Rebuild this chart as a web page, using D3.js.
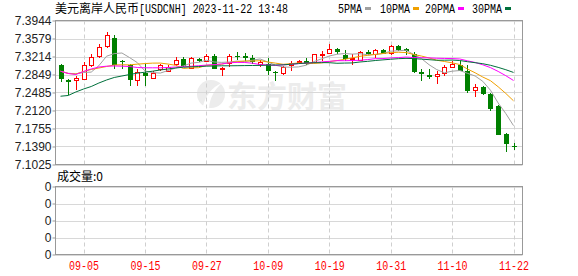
<!DOCTYPE html>
<html>
<head>
<meta charset="utf-8">
<script src="https://cdn.jsdelivr.net/npm/d3@7"></script>
<style>
  body { margin: 0; background: #fff; }
  svg { display: block; }
</style>
</head>
<body>
<div id="chart"></div>
<script>
// trading days shown (MM-DD)
const dates = [
  '08-31', '09-01', '09-04', '09-05', '09-06', '09-07', '09-08', '09-11', '09-12', '09-13',
  '09-14', '09-15', '09-18', '09-19', '09-20', '09-21', '09-22', '09-25', '09-26', '09-27',
  '09-28', '09-29', '10-02', '10-03', '10-04', '10-05', '10-06', '10-09', '10-10', '10-11',
  '10-12', '10-13', '10-16', '10-17', '10-18', '10-19', '10-20', '10-23', '10-24', '10-25',
  '10-26', '10-27', '10-30', '10-31', '11-01', '11-02', '11-03', '11-06', '11-07', '11-08',
  '11-09', '11-10', '11-13', '11-14', '11-15', '11-16', '11-17', '11-20', '11-21', '11-22'
];

const opens = [
  7.3032, 7.2748, 7.2728, 7.2768, 7.3052, 7.3220, 7.3437, 7.3593, 7.3133, 7.3052,
  7.2748, 7.2884, 7.2782, 7.2951, 7.2916, 7.3072, 7.3168, 7.2985, 7.3168, 7.3119,
  7.3220, 7.2965, 7.3086, 7.3234, 7.3220, 7.3188, 7.3066, 7.3066, 7.2904, 7.2884,
  7.3052, 7.3099, 7.3113, 7.3099, 7.3241, 7.3289, 7.3376, 7.3241, 7.3168, 7.3153,
  7.3310, 7.3269, 7.3336, 7.3289, 7.3423, 7.3376, 7.3255, 7.2910, 7.2835, 7.2815,
  7.2884, 7.2997, 7.3038, 7.2930, 7.2545, 7.2592, 7.2458, 7.2207, 7.1647, 7.1396
];
const highs = [
  7.3072, 7.2768, 7.2809, 7.3099, 7.3269, 7.3458, 7.3715, 7.3660, 7.3153, 7.3072,
  7.2951, 7.3072, 7.2916, 7.3066, 7.3038, 7.3214, 7.3200, 7.3194, 7.3180, 7.3255,
  7.3255, 7.3011, 7.3255, 7.3310, 7.3289, 7.3241, 7.3153, 7.3188, 7.2930, 7.3018,
  7.3133, 7.3153, 7.3188, 7.3269, 7.3322, 7.3472, 7.3391, 7.3336, 7.3255, 7.3322,
  7.3336, 7.3376, 7.3376, 7.3443, 7.3443, 7.3391, 7.3310, 7.2951, 7.2951, 7.2916,
  7.3038, 7.3119, 7.3133, 7.3052, 7.2647, 7.2612, 7.2478, 7.2241, 7.1668, 7.1465
];
const lows = [
  7.2701, 7.2424, 7.2545, 7.2748, 7.2997, 7.3188, 7.3391, 7.2951, 7.2951, 7.2612,
  7.2612, 7.2612, 7.2768, 7.2916, 7.2904, 7.3018, 7.2997, 7.2965, 7.3099, 7.3107,
  7.2951, 7.2815, 7.2997, 7.3153, 7.3119, 7.3066, 7.3005, 7.2849, 7.2714, 7.2849,
  7.2930, 7.3066, 7.3052, 7.3086, 7.3119, 7.3255, 7.3255, 7.3119, 7.3052, 7.3133,
  7.3241, 7.3188, 7.3255, 7.3241, 7.3322, 7.3241, 7.2884, 7.2714, 7.2768, 7.2661,
  7.2815, 7.2985, 7.2916, 7.2478, 7.2389, 7.2430, 7.2105, 7.1623, 7.1274, 7.1329
];
const closes = [
  7.2762, 7.2701, 7.2782, 7.3038, 7.3208, 7.3411, 7.3660, 7.3052, 7.3093, 7.2748,
  7.2904, 7.2815, 7.2884, 7.3038, 7.3011, 7.3153, 7.3018, 7.3180, 7.3113, 7.3234,
  7.2965, 7.2985, 7.3220, 7.3200, 7.3188, 7.3107, 7.3099, 7.2916, 7.2884, 7.2997,
  7.3086, 7.3133, 7.3086, 7.3255, 7.3269, 7.3376, 7.3310, 7.3168, 7.3188, 7.3310,
  7.3269, 7.3336, 7.3269, 7.3423, 7.3356, 7.3322, 7.2904, 7.2864, 7.2795, 7.2864,
  7.2997, 7.3066, 7.2930, 7.2511, 7.2592, 7.2458, 7.2160, 7.1633, 7.1445, 7.1376
];

const ma5 = [
  7.2916, 7.2874, 7.2864, 7.2890, 7.2898, 7.3028, 7.3220, 7.3273, 7.3285, 7.3192,
  7.3091, 7.2922, 7.2888, 7.2878, 7.2930, 7.2981, 7.3022, 7.3080, 7.3095, 7.3139,
  7.3103, 7.3095, 7.3103, 7.3121, 7.3111, 7.3139, 7.3164, 7.3103, 7.3038, 7.3001,
  7.2997, 7.3003, 7.3038, 7.3111, 7.3166, 7.3224, 7.3259, 7.3275, 7.3263, 7.3271,
  7.3249, 7.3255, 7.3275, 7.3322, 7.3330, 7.3342, 7.3255, 7.3174, 7.3048, 7.2949,
  7.2884, 7.2916, 7.2930, 7.2874, 7.2819, 7.2711, 7.2531, 7.2272, 7.2057, 7.1813
];
const ma10 = [
  7.2916, 7.2870, 7.2859, 7.2910, 7.2951, 7.2981, 7.3011, 7.3042, 7.3046, 7.3045,
  7.3059, 7.3071, 7.3080, 7.3081, 7.3061, 7.3036, 7.2972, 7.2984, 7.2986, 7.3035,
  7.3042, 7.3058, 7.3092, 7.3108, 7.3125, 7.3121, 7.3129, 7.3103, 7.3080, 7.3056,
  7.3068, 7.3084, 7.3070, 7.3074, 7.3084, 7.3111, 7.3131, 7.3157, 7.3187, 7.3218,
  7.3237, 7.3257, 7.3275, 7.3292, 7.3300, 7.3295, 7.3255, 7.3224, 7.3185, 7.3139,
  7.3113, 7.3086, 7.3052, 7.2961, 7.2884, 7.2798, 7.2724, 7.2601, 7.2465, 7.2316
];
const ma20 = [
  7.2916, 7.2870, 7.2849, 7.2910, 7.2961, 7.3001, 7.3018, 7.3022, 7.3018, 7.3011,
  7.2991, 7.2985, 7.2985, 7.2985, 7.2991, 7.3001, 7.3005, 7.3016, 7.3028, 7.3040,
  7.3050, 7.3064, 7.3086, 7.3095, 7.3093, 7.3078, 7.3050, 7.3044, 7.3033, 7.3046,
  7.3055, 7.3070, 7.3080, 7.3091, 7.3105, 7.3116, 7.3130, 7.3129, 7.3133, 7.3137,
  7.3152, 7.3170, 7.3173, 7.3184, 7.3192, 7.3203, 7.3193, 7.3190, 7.3186, 7.3179,
  7.3175, 7.3172, 7.3164, 7.3127, 7.3093, 7.3046, 7.2989, 7.2912, 7.2825, 7.2728
];
const ma30 = [
  7.2409, 7.2424, 7.2495, 7.2555, 7.2606, 7.2677, 7.2738, 7.2789, 7.2819, 7.2849,
  7.2876, 7.2896, 7.2916, 7.2941, 7.2961, 7.2981, 7.2997, 7.3005, 7.3011, 7.3018,
  7.3022, 7.3026, 7.3026, 7.3028, 7.3030, 7.3032, 7.3034, 7.3038, 7.3042, 7.3045,
  7.3057, 7.3071, 7.3081, 7.3088, 7.3090, 7.3089, 7.3077, 7.3081, 7.3084, 7.3103,
  7.3116, 7.3133, 7.3146, 7.3158, 7.3170, 7.3176, 7.3172, 7.3161, 7.3150, 7.3138,
  7.3139, 7.3142, 7.3133, 7.3109, 7.3089, 7.3068, 7.3036, 7.2994, 7.2946, 7.2891
];

const yTicks = [7.3944, 7.3579, 7.3214, 7.2849, 7.2485, 7.2120, 7.1755, 7.1390, 7.1025];
const xTickLabels = ['09-05', '09-15', '09-27', '10-09', '10-19', '10-31', '11-10', '11-22'];
const volTickLabels = ['0', '0', '0', '0', '0'];
const maNames = ['5PMA', '10PMA', '20PMA', '30PMA'];

const W = 578, H = 276;
const plot = { left: 55.5, right: 522.5, top: 20.5, bottom: 164.5 };
const vol = { top: 186.5, bottom: 254.5 };
const UP = '#ff0000', DOWN = '#008000';
const maColors = ['#a0a0a0', '#f0a000', '#ff00ff', '#00703c'];

const svg = d3.select('#chart').append('svg')
  .attr('width', W)
  .attr('height', H)
  .style('font-family', '"Liberation Sans", Arial, sans-serif');

const x = d3.scalePoint().domain(dates).range([60.5, 513.5]);
const y = d3.scaleLinear()
  .domain([yTicks[yTicks.length - 1], yTicks[0]])
  .range([plot.bottom, plot.top]);
const yv = d3.scaleLinear()
  .domain([0, volTickLabels.length - 1])
  .range([vol.bottom, vol.top]);
const px = d => Math.round(x(d)) + 0.5;

// watermark
const wm = svg.append('g').attr('fill', '#ececec');
wm.append('circle').attr('cx', 211).attr('cy', 94).attr('r', 14);
wm.append('path')
  .attr('d', 'M203,106 C206,95 212,87 222,83 C214,90 210,98 209,108 Z')
  .attr('fill', '#fff');
wm.append('text')
  .attr('x', 227).attr('y', 107)
  .attr('font-family', '"Noto Sans CJK SC", sans-serif')
  .attr('font-size', 30).attr('font-weight', 'bold')
  .text('东方财富');

// grid
const grid = svg.append('g');
grid.selectAll('.hg').data(yTicks).enter().append('line')
  .attr('x1', plot.left).attr('x2', plot.right)
  .attr('y1', d => Math.round(y(d)) + 0.5).attr('y2', d => Math.round(y(d)) + 0.5)
  .attr('stroke', '#d8d8d8');
grid.selectAll('.vg').data(d3.range(volTickLabels.length)).enter().append('line')
  .attr('x1', plot.left).attr('x2', plot.right)
  .attr('y1', d => Math.round(yv(d)) + 0.5).attr('y2', d => Math.round(yv(d)) + 0.5)
  .attr('stroke', '#d8d8d8');
[[plot.top, plot.bottom], [vol.top, vol.bottom]].forEach(([t, b]) => {
  grid.selectAll(null).data(xTickLabels).enter().append('line')
    .attr('x1', d => px(d)).attr('x2', d => px(d))
    .attr('y1', t).attr('y2', b)
    .attr('stroke', '#cfcfcf')
    .attr('stroke-dasharray', '4,3');
});

// candles
const candles = svg.append('g');
dates.forEach((d, i) => {
  const up = closes[i] >= opens[i];
  const c = up ? UP : DOWN;
  const cx = px(d);
  candles.append('line')
    .attr('x1', cx).attr('x2', cx)
    .attr('y1', Math.round(y(highs[i]))).attr('y2', Math.round(y(lows[i])))
    .attr('stroke', c);
  if (up) {
    const t = Math.round(y(closes[i])) + 0.5;
    const b = Math.round(y(opens[i])) + 0.5;
    candles.append('rect')
      .attr('x', cx - 2).attr('y', t)
      .attr('width', 4).attr('height', Math.max(1, b - t))
      .attr('fill', '#fff').attr('stroke', c);
  } else {
    const t = Math.round(y(opens[i]));
    const b = Math.round(y(closes[i]));
    candles.append('rect')
      .attr('x', cx - 2.5).attr('y', t)
      .attr('width', 5).attr('height', Math.max(1, b - t))
      .attr('fill', c);
  }
});

// moving averages
const line = d3.line().x((v, i) => x(dates[i])).y(v => y(v));
[ma5, ma10, ma20, ma30].forEach((s, k) => {
  svg.append('path')
    .attr('d', line(s))
    .attr('fill', 'none')
    .attr('stroke', maColors[k])
    .attr('stroke-width', 1);
});

// frames
svg.append('rect')
  .attr('x', plot.left).attr('y', plot.top)
  .attr('width', plot.right - plot.left).attr('height', plot.bottom - plot.top)
  .attr('fill', 'none').attr('stroke', '#999');
svg.append('rect')
  .attr('x', plot.left).attr('y', vol.top)
  .attr('width', plot.right - plot.left).attr('height', vol.bottom - vol.top)
  .attr('fill', 'none').attr('stroke', '#999');

// y axis
const yAxis = svg.append('g')
  .attr('transform', `translate(${plot.left},0)`)
  .call(d3.axisLeft(y).tickValues(yTicks).tickSize(3).tickPadding(1).tickFormat(d3.format('.4f')));
yAxis.select('.domain').remove();
yAxis.selectAll('line').attr('stroke', '#999');
yAxis.selectAll('text').attr('font-size', 12).attr('fill', '#222')
  .attr('font-family', '"Liberation Sans", Arial, sans-serif');

const vAxis = svg.append('g')
  .attr('transform', `translate(${plot.left},0)`)
  .call(d3.axisLeft(yv).tickValues(d3.range(volTickLabels.length)).tickSize(3).tickPadding(1)
    .tickFormat((d, i) => volTickLabels[i]));
vAxis.select('.domain').remove();
vAxis.selectAll('line').attr('stroke', '#999');
vAxis.selectAll('text').attr('font-size', 12).attr('fill', '#222')
  .attr('font-family', '"Liberation Sans", Arial, sans-serif');

// x axis
const xAxis = svg.append('g')
  .attr('transform', `translate(0,${vol.bottom})`)
  .call(d3.axisBottom(x).tickValues(xTickLabels).tickSize(0).tickPadding(7));
xAxis.select('.domain').remove();
xAxis.selectAll('text')
  .attr('font-family', '"Liberation Mono", monospace')
  .attr('font-size', 12)
  .attr('fill', UP)
  .attr('textLength', 30)
  .attr('lengthAdjust', 'spacingAndGlyphs');

// title
svg.append('text')
  .attr('x', 55).attr('y', 13)
  .attr('font-family', '"Noto Sans CJK SC", sans-serif')
  .attr('font-size', 12).attr('fill', '#000')
  .text('美元离岸人民币');
svg.append('text')
  .attr('x', 139).attr('y', 13)
  .attr('font-family', '"Liberation Mono", monospace')
  .attr('font-size', 12).attr('fill', '#000')
  .attr('textLength', 149).attr('lengthAdjust', 'spacingAndGlyphs')
  .text('[USDCNH] 2023-11-22 13:48');

// legend
const legX = [338, 380, 425, 472];
maNames.forEach((name, k) => {
  const w = name.length * 6;
  svg.append('text')
    .attr('x', legX[k]).attr('y', 13)
    .attr('font-family', '"Liberation Mono", monospace')
    .attr('font-size', 12).attr('fill', '#000')
    .attr('textLength', w).attr('lengthAdjust', 'spacingAndGlyphs')
    .text(name);
  svg.append('rect')
    .attr('x', legX[k] + w + 3).attr('y', 7)
    .attr('width', 6).attr('height', 3)
    .attr('fill', maColors[k]);
});

// volume caption
svg.append('text')
  .attr('x', 57).attr('y', 181)
  .attr('font-family', '"Noto Sans CJK SC", sans-serif')
  .attr('font-size', 12).attr('fill', '#000')
  .text('成交量:0');
</script>
</body>
</html>
